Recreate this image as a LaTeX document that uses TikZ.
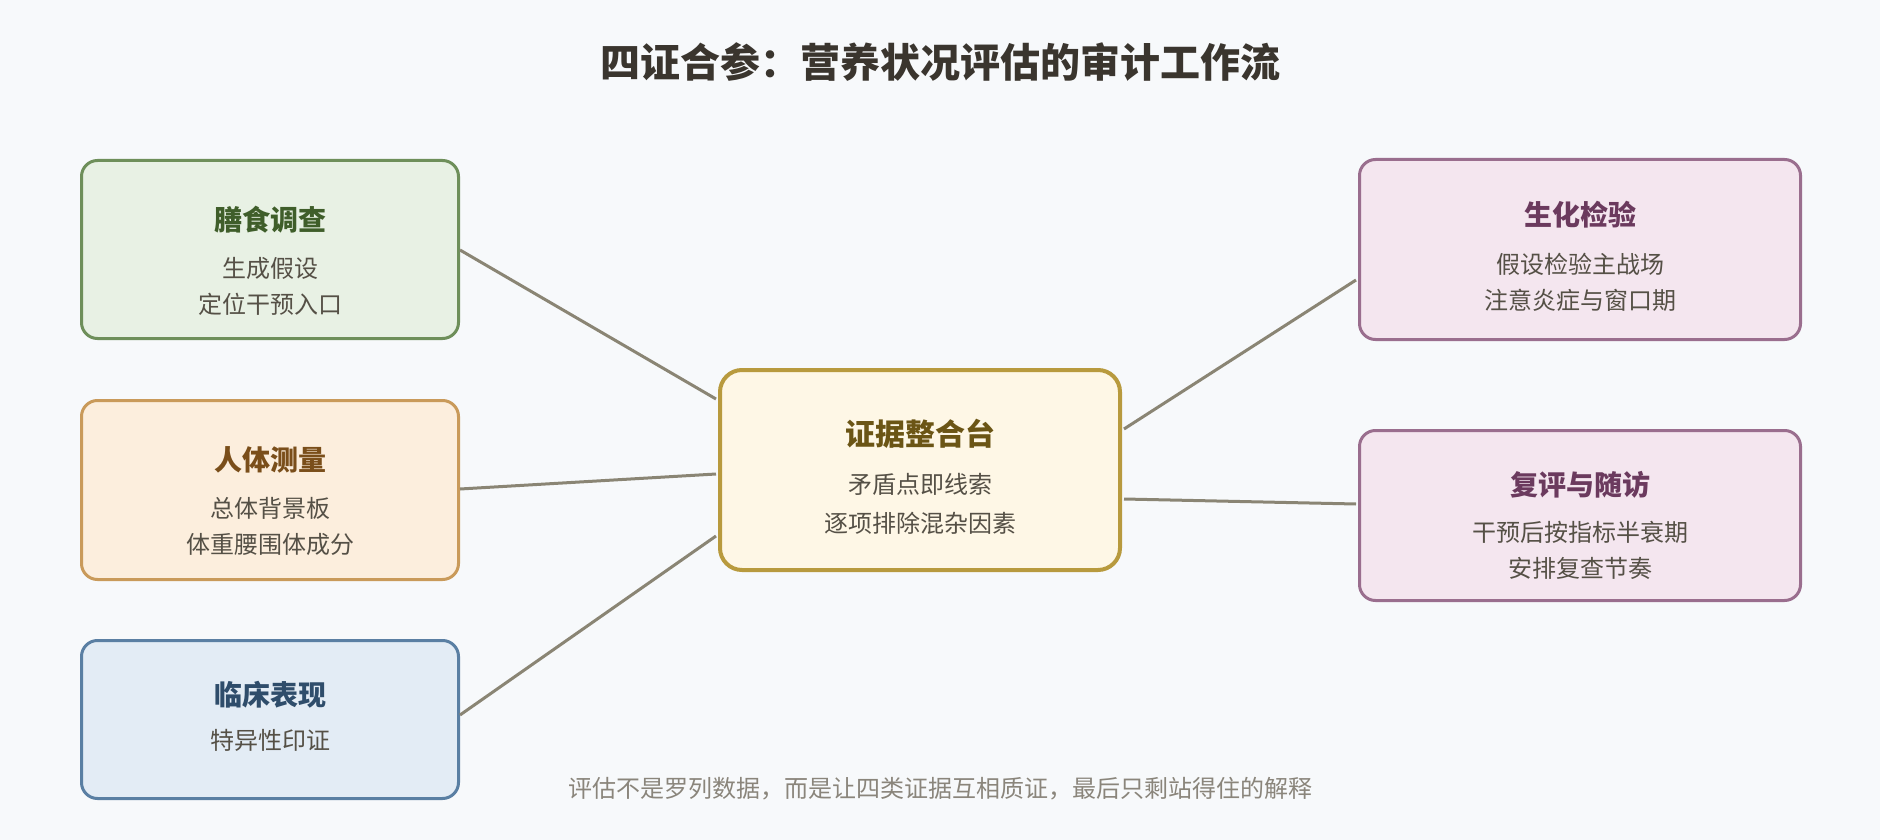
\documentclass[tikz,border=0pt]{standalone}
\usepackage{fontspec}
\setmainfont{Noto Sans CJK SC}
\usetikzlibrary{calc}
\definecolor{bg}{HTML}{F7F9FB}
\definecolor{titlec}{HTML}{3A352E}
\definecolor{subc}{HTML}{555046}
\definecolor{linkc}{HTML}{8A8574}
\definecolor{footc}{HTML}{8A857B}
\definecolor{gfill}{HTML}{E8F1E4}\definecolor{gdraw}{HTML}{6E8F5A}\definecolor{gtext}{HTML}{3F5E2A}
\definecolor{ofill}{HTML}{FCEEDD}\definecolor{odraw}{HTML}{C99A5A}\definecolor{otext}{HTML}{7A4E1A}
\definecolor{bfill}{HTML}{E3ECF5}\definecolor{bdraw}{HTML}{5A7FA3}\definecolor{btext}{HTML}{2F4D6B}
\definecolor{cfill}{HTML}{FEF7E6}\definecolor{cdraw}{HTML}{B89A3E}\definecolor{ctext}{HTML}{6B5515}
\definecolor{pfill}{HTML}{F4E6EF}\definecolor{pdraw}{HTML}{9A6E8E}\definecolor{ptext}{HTML}{6B3A5E}
\tikzset{
  card/.style={draw=#1draw, fill=#1fill, line width=3pt, rounded corners=16pt, inner sep=0pt},
  cardtitle/.style={font=\fontsize{28}{30}\selectfont\bfseries, text=#1text, inner sep=0pt},
  cardsub/.style={font=\fontsize{24}{26}\selectfont, text=subc, inner sep=0pt},
  link/.style={draw=linkc, line width=3pt},
}
\begin{document}
\begin{tikzpicture}[x=1pt,y=-1pt]
\fill[bg] (0,0) rectangle (1880,840);
\useasboundingbox (0,0) rectangle (1880,840);
% title
\node[font=\fontsize{40}{44}\selectfont\bfseries, text=titlec, inner sep=0pt] (title) at (940,62) {四证合参：营养状况评估的审计工作流};
% boxes
\node[card=g, minimum width=377pt, minimum height=178pt] (b1) at (270,249.5) {};
\node[card=o, minimum width=377pt, minimum height=179pt] (b2) at (270,490) {};
\node[card=b, minimum width=377pt, minimum height=158pt] (b3) at (270,719.5) {};
\node[card=c, line width=4pt, rounded corners=22pt, minimum width=400pt, minimum height=200pt] (c) at (920,470) {};
\node[card=p, minimum width=441pt, minimum height=180pt] (r1) at (1580,249.5) {};
\node[card=p, minimum width=441pt, minimum height=170pt] (r2) at (1580,515.5) {};
% texts
\node[cardtitle=g] (b1t) at (270,220) {膳食调查};
\node[cardsub] (b1s1) at (270,268) {生成假设};
\node[cardsub] (b1s2) at (270,304) {定位干预入口};
\node[cardtitle=o] (b2t) at (270,460) {人体测量};
\node[cardsub] (b2s1) at (270,508) {总体背景板};
\node[cardsub] (b2s2) at (270,544) {体重腰围体成分};
\node[cardtitle=b] (b3t) at (270,695) {临床表现};
\node[cardsub] (b3s1) at (270,740) {特异性印证};
\node[cardtitle=c, font=\fontsize{30}{32}\selectfont\bfseries] (ct) at (920,434) {证据整合台};
\node[cardsub] (cs1) at (920,484) {矛盾点即线索};
\node[cardsub] (cs2) at (920,523) {逐项排除混杂因素};
\node[cardtitle=p] (r1t) at (1580,215) {生化检验};
\node[cardsub] (r1s1) at (1580,264) {假设检验主战场};
\node[cardsub] (r1s2) at (1580,300) {注意炎症与窗口期};
\node[cardtitle=p] (r2t) at (1580,485) {复评与随访};
\node[cardsub] (r2s1) at (1580,532) {干预后按指标半衰期};
\node[cardsub] (r2s2) at (1580,568) {安排复查节奏};
% connectors
\draw[link] ([yshift=-0.5pt]b1.east) -- ([xshift=-2pt,yshift=71pt]c.west);
\draw[link] ([yshift=1pt]b2.east) -- ([xshift=-2pt,yshift=-4pt]c.west);
\draw[link] ([yshift=4.5pt]b3.east) -- ([xshift=-2pt,yshift=-66pt]c.west);
\draw[link] ([xshift=2pt,yshift=41pt]c.east) -- ([xshift=-2pt,yshift=-30.5pt]r1.west);
\draw[link] ([xshift=2pt,yshift=-29pt]c.east) -- ([xshift=-2pt,yshift=11.5pt]r2.west);
% footer
\node[font=\fontsize{24}{26}\selectfont, text=footc, inner sep=0pt] (foot) at (940,789) {评估不是罗列数据，而是让四类证据互相质证，最后只剩站得住的解释};
\end{tikzpicture}
\end{document}
